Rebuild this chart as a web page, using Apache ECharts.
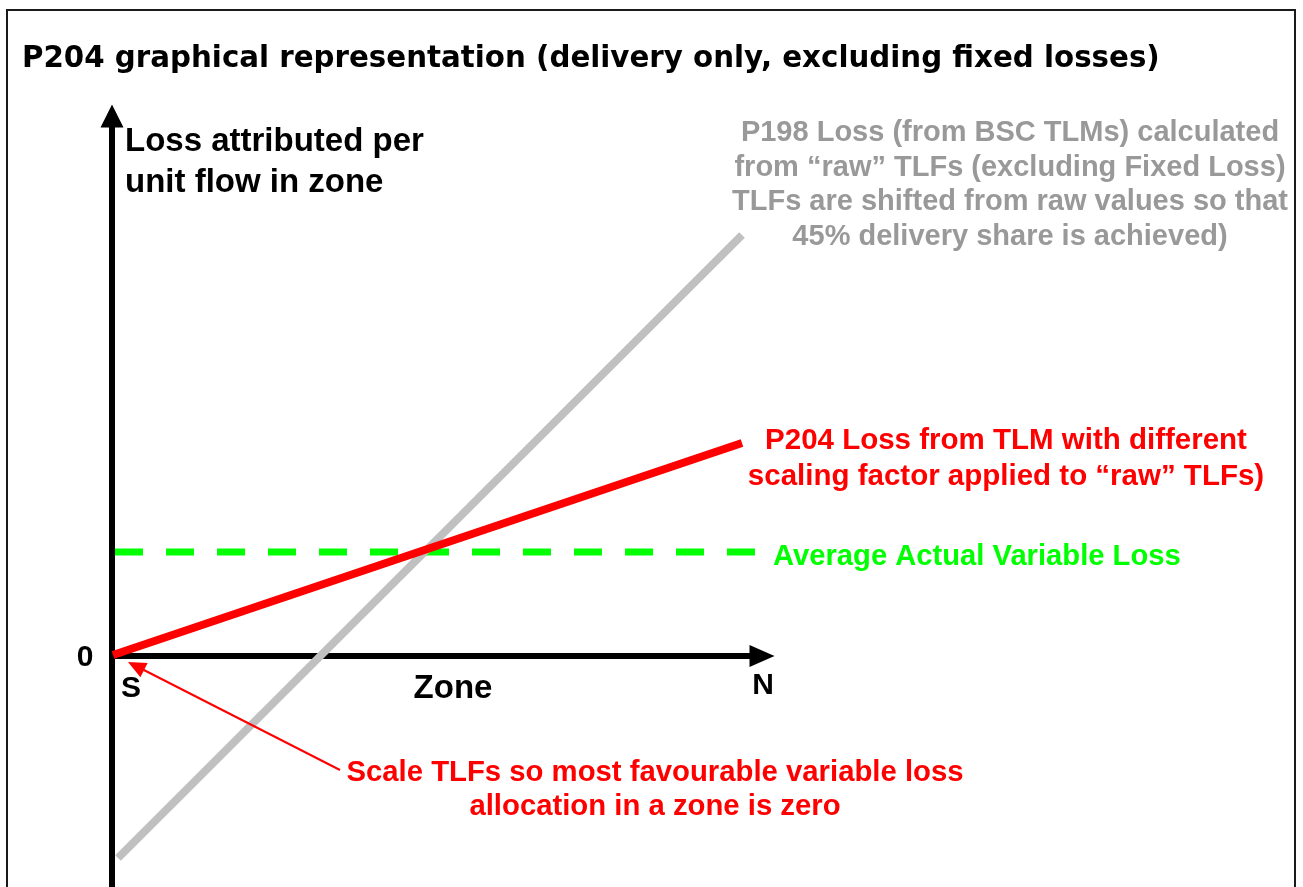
<!DOCTYPE html>
<html>
<head>
<meta charset="utf-8">
<style>
html,body{margin:0;padding:0;background:#fff;}
#chart{width:1303px;height:887px;}
</style>
<script src="https://cdn.jsdelivr.net/npm/echarts@6/dist/echarts.min.js"></script>
</head>
<body>
<div id="chart"></div>
<script type="text/javascript">
// zone position (S = 0 .. N) and loss per unit flow, arbitrary units
var p198Line = [[0.6, -20.2], [63.0, 42.1]];
var p204Line = [[0.1, 0.1], [63.0, 21.3]];
var avgLoss = [[0.3, 10.4], [64.5, 10.4]];
// annotation arrow: from label towards the origin
var scaleArrow = [[22.8, -11.4], [2.4, -1.0]];

var AR = '"Liberation Sans", Arial, sans-serif';

var chart = echarts.init(document.getElementById("chart"));

function txt(x, y, text, size, color, align, lh){
	return {
		type: 'text', x: x, y: y, z: 10,
		style: {
			text: text,
			font: 'bold ' + size + 'px ' + AR,
			fill: color,
			align: align || 'left',
			verticalAlign: 'middle',
			lineHeight: lh || size
		}
	};
}

var option = {
	animation: false,
	backgroundColor: '#fff',
	grid: {left: 112, right: 541, top: 116, bottom: 1},
	xAxis: {
		type: 'value', min: 0, max: 65,
		axisLine: {
			onZero: true,
			lineStyle: {color: '#000', width: 6},
			symbol: ['none', 'triangle'],
			symbolSize: [22, 25]
		},
		axisTick: {show: false}, axisLabel: {show: false}, splitLine: {show: false}
	},
	yAxis: {
		type: 'value', min: -23, max: 54,
		axisLine: {
			show: true,
			lineStyle: {color: '#000', width: 6},
			symbol: ['none', 'triangle'],
			symbolSize: [23, 23]
		},
		axisTick: {show: false}, axisLabel: {show: false}, splitLine: {show: false}
	},
	series: [
		{
			name: 'Average Actual Variable Loss', type: 'line', data: avgLoss,
			symbol: 'none', z: 3,
			lineStyle: {color: '#00ff00', width: 7, type: [28, 23], cap: 'butt'}
		},
		{
			name: 'P198', type: 'line', data: p198Line,
			symbol: 'none', z: 4,
			lineStyle: {color: '#c0c0c0', width: 8, cap: 'butt'}
		},
		{
			name: 'P204', type: 'line', data: p204Line,
			symbol: 'none', z: 5,
			lineStyle: {color: '#ff0000', width: 8, cap: 'butt'},
			markLine: {
				silent: true,
				symbol: ['none', 'triangle'],
				symbolSize: [16, 18],
				label: {show: false},
				lineStyle: {color: '#ff0000', width: 2, type: 'solid'},
				data: [[{coord: scaleArrow[0]}, {coord: scaleArrow[1]}]]
			}
		}
	],
	graphic: [
		{
			type: 'rect', z: 0,
			shape: {x: 7, y: 10, width: 1288, height: 900},
			style: {fill: 'none', stroke: '#1a1a1a', lineWidth: 2}
		},
		{
			type: 'text', x: 22, y: 59, z: 10,
			style: {
				text: 'P204 graphical representation (delivery only, excluding fixed losses)',
				font: 'bold 29.3px "DejaVu Sans", Verdana, sans-serif',
				fill: '#000', align: 'left', verticalAlign: 'middle'
			}
		},
		txt(125, 162, 'Loss attributed per\nunit flow in zone', 33, '#000', 'left', 41),
		txt(1010, 185, 'P198 Loss (from BSC TLMs) calculated\nfrom \u201craw\u201d TLFs (excluding Fixed Loss)\nTLFs are shifted from raw values so that\n45% delivery share is achieved)', 29, '#999999', 'center', 34.5),
		txt(1006, 459, 'P204 Loss from TLM with different\nscaling factor applied to \u201craw\u201d TLFs)', 29.5, '#ff0000', 'center', 36),
		txt(773, 557, 'Average Actual Variable Loss', 29.2, '#00ff00', 'left'),
		txt(85, 658, '0', 30, '#000', 'center'),
		txt(131, 689, 'S', 30, '#000', 'center'),
		txt(453, 689, 'Zone', 33, '#000', 'center'),
		txt(763, 686, 'N', 30, '#000', 'center'),
		txt(655, 790, 'Scale TLFs so most favourable variable loss\nallocation in a zone is zero', 29.3, '#ff0000', 'center', 34)
	]
};
chart.setOption(option);
</script>
</body>
</html>
